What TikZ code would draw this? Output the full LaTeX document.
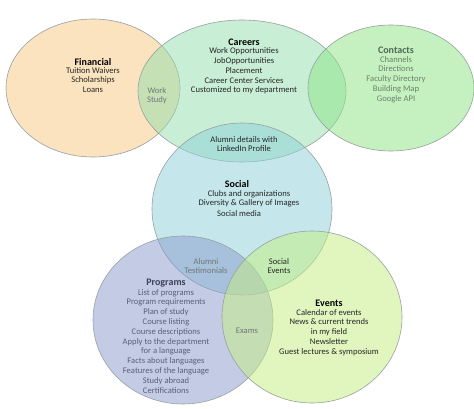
\documentclass[tikz,border=0pt]{standalone}
\usepackage{fontspec}
\setmainfont{Carlito}
\definecolor{cFin}{RGB}{249,201,129}
\definecolor{cCar}{RGB}{147,223,175}
\definecolor{cCon}{RGB}{141,229,133}
\definecolor{cSoc}{RGB}{141,209,217}
\definecolor{cPro}{RGB}{139,155,205}
\definecolor{cEve}{RGB}{197,239,129}
\definecolor{edge}{RGB}{150,160,160}
\definecolor{tConT}{RGB}{80,105,85}
\definecolor{tCon}{RGB}{105,130,105}
\definecolor{tProT}{RGB}{60,65,90}
\definecolor{tPro}{RGB}{90,95,120}
\definecolor{tGrey}{RGB}{110,120,120}
\begin{document}
\begin{tikzpicture}[x=1pt,y=-1pt,
  setc/.style={draw=edge,line width=0.6pt,fill opacity=0.5},
  lbl/.style={align=center,font=\fontsize{8.6}{9.8}\selectfont,inner sep=0pt,anchor=north},
  ttl/.style={font=\fontsize{10}{12}\selectfont\bfseries,inner sep=0pt}]
\useasboundingbox (0,0) rectangle (474,409);
\fill[white] (0,0) rectangle (474,409);
% sets
\draw[setc,fill=cFin] (93,88) ellipse [x radius=87,y radius=69];
\draw[setc,fill=cCar] (242,91) ellipse [x radius=104,y radius=71];
\draw[setc,fill=cCon] (391,88) ellipse [x radius=83,y radius=63];
\draw[setc,fill=cSoc] (242,209) ellipse [x radius=90,y radius=86];
\draw[setc,fill=cPro] (183,320) ellipse [x radius=90,y radius=84];
\draw[setc,fill=cEve] (312,317) ellipse [x radius=90,y radius=86];
% Financial
\node[ttl] (fint) at (93,62) {Financial};
\node[lbl,text=black!85] (fin) at (93,67) {Tuition Waivers\\Scholarships\\Loans};
% Work study
\node[lbl,text=tGrey] (ws) at (157,87) {Work\\Study};
% Careers
\node[ttl] (cart) at (244,42) {Careers};
\node[lbl,text=black!85] (car) at (244,47.5) {Work Opportunities\\JobOpportunities\\Placement\\Career Center Services\\Customized to my department};
% Contacts
\node[ttl,text=tConT] (cont) at (396,50) {Contacts};
\node[lbl,text=tCon] (con) at (396,56) {Channels\\Directions\\Faculty Directory\\Building Map\\Google API};
% Alumni details
\node[lbl,text=black!85] (ad) at (244,136) {Alumni details with\\LinkedIn Profile};
% Social
\node[ttl] (soct) at (237,184) {Social};
\node[lbl,text=black!85] (soc1) at (249,190) {Clubs and organizations\\Diversity \& Gallery of Images};
\node[lbl,text=black!85] (soc2) at (239,210) {Social media};
% Alumni testimonials
\node[lbl,text=tGrey] (at) at (206,258) {Alumni\\Testimonials};
% Social events
\node[lbl,text=black!85] (se) at (279,258) {Social\\Events};
% Programs
\node[ttl,text=tProT] (prot) at (166,283) {Programs};
\node[lbl,text=tPro] (pro) at (166,289) {List of programs\\Program requirements\\Plan of study\\Course listing\\Course descriptions\\Apply to the department\\for a language\\Facts about languages\\Features of the language\\Study abroad\\Certifications};
% Exams
\node[lbl,text=tGrey] (ex) at (247,328) {Exams};
% Events
\node[ttl] (evt) at (329,303) {Events};
\node[lbl,text=black!85] (ev) at (329,309) {Calendar of events\\News \& current trends\\in my field\\Newsletter\\Guest lectures \& symposium};
\end{tikzpicture}
\end{document}
